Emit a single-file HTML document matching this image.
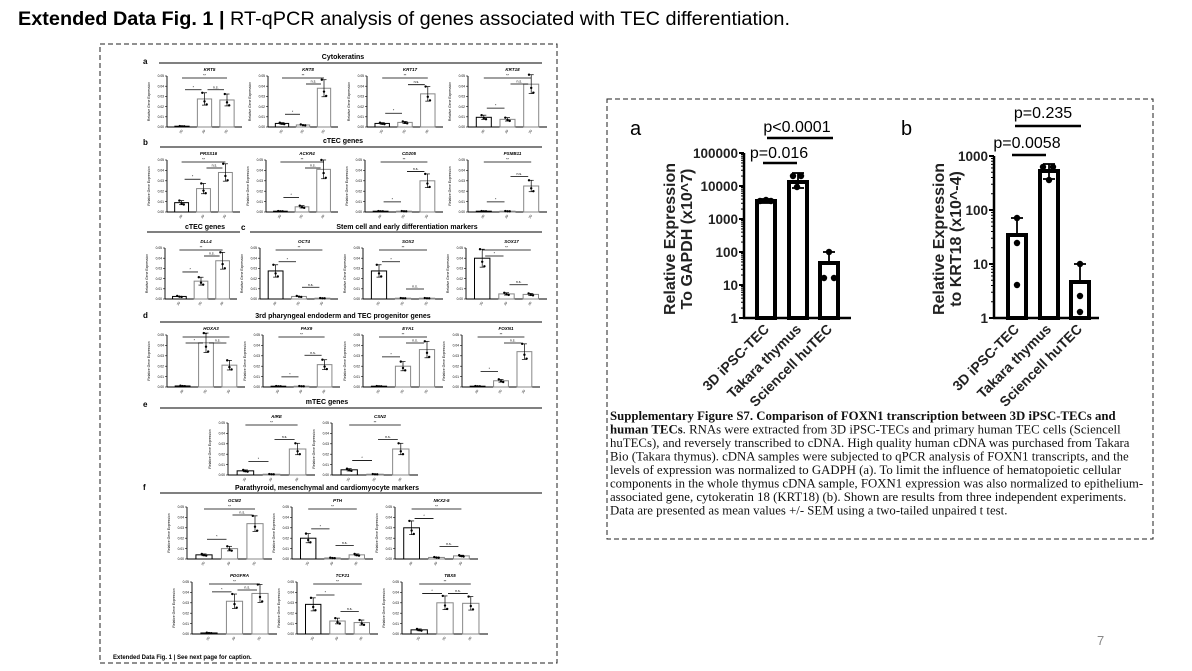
<!DOCTYPE html>
<html><head><meta charset="utf-8"><style>
html,body{margin:0;padding:0;background:#fff;}
svg{display:block;}
</style></head><body>
<svg id="s" width="1192" height="671" viewBox="0 0 1192 671" xmlns="http://www.w3.org/2000/svg" font-family="Liberation Sans, Arial, sans-serif">
<text x="18" y="25" font-size="19.5" fill="#000" textLength="772" lengthAdjust="spacingAndGlyphs"><tspan font-weight="bold">Extended Data Fig. 1 |</tspan> RT-qPCR analysis of genes associated with TEC differentiation.</text>
<rect x="100" y="44" width="457" height="619" fill="none" stroke="#222" stroke-width="1" stroke-dasharray="5,3"/>
<rect x="607" y="99" width="546" height="440" fill="none" stroke="#222" stroke-width="1" stroke-dasharray="5,3"/>
<text x="1097" y="645" font-size="13" fill="#888">7</text>
<g id="left"></g>
<g id="right"></g>
<text font-family="Liberation Serif, Times New Roman, serif" font-size="12.8" fill="#111">
<tspan x="610" y="420" font-weight="bold">Supplementary Figure S7. Comparison of FOXN1 transcription between 3D iPSC-TECs and</tspan>
<tspan x="610" y="433.5"><tspan font-weight="bold">human TECs</tspan>. RNAs were extracted from 3D iPSC-TECs and primary human TEC cells (Sciencell</tspan>
<tspan x="610" y="447">huTECs), and reversely transcribed to cDNA.  High quality human cDNA was purchased from Takara</tspan>
<tspan x="610" y="460.5">Bio (Takara thymus). cDNA samples were subjected to qPCR analysis of FOXN1 transcripts, and the</tspan>
<tspan x="610" y="474">levels of expression was normalized to GADPH (a). To limit the influence of hematopoietic cellular</tspan>
<tspan x="610" y="487.5">components in the whole thymus cDNA sample, FOXN1 expression was also normalized to epithelium-</tspan>
<tspan x="610" y="501">associated gene, cytokeratin 18 (KRT18) (b). Shown are results from three independent experiments.</tspan>
<tspan x="610" y="514.5">Data are presented as mean values +/- SEM using a two-tailed unpaired t test.</tspan>
</text>
</svg>
<script>
(function(){
var L='';
function ln(x1,y1,x2,y2,w,c){return '<line x1="'+x1+'" y1="'+y1+'" x2="'+x2+'" y2="'+y2+'" stroke="'+(c||'#000')+'" stroke-width="'+(w||1)+'"/>';}
function tx(x,y,t,sz,opt){opt=opt||{};return '<text x="'+x+'" y="'+y+'" font-size="'+sz+'"'+(opt.a?' text-anchor="'+opt.a+'"':'')+(opt.b?' font-weight="bold"':'')+(opt.i?' font-style="italic"':'')+(opt.r!==undefined?' transform="rotate('+opt.r+' '+x+' '+y+')"':'')+' fill="'+(opt.c||'#000')+'">'+t+'</text>';}
function mini(ax,top,base,end,title,v){
 var s='';
 s+=tx((ax+end)/2+5,top-5,title,4.5,{a:'middle',b:1,i:1});
 s+=ln(ax,top,ax,base,0.9)+ln(ax,base,end,base,0.9);
 for(var i=0;i<=5;i++){var y=base-(base-top)*i/5;s+=ln(ax-2,y,ax,y,0.6)+tx(ax-3,y+1.2,'0.0'+i,3.3,{a:'end'});}
 s+=tx(ax-17,(top+base)/2,'Relative Gene Expression',3.4,{a:'middle',r:-90});
 var w=end-ax,bw=w*0.19,cs=[ax+w*0.2,ax+w*0.5,ax+w*0.8],H=base-top;
 var tops=[];
 for(var k=0;k<3;k++){
  var h=Math.max(v[k]*H,0.8),c=cs[k],yt=base-h;tops.push(yt);
  s+='<rect x="'+(c-bw/2)+'" y="'+yt+'" width="'+bw+'" height="'+h+'" fill="#fff" stroke="'+(k==0?'#000':'#888')+'" stroke-width="1"/>';
  var e=h*0.22;
  if(h>3){s+=ln(c,yt-e,c,yt+e,0.7)+ln(c-2.5,yt-e,c+2.5,yt-e,0.7)+ln(c-2.5,yt+e,c+2.5,yt+e,0.7);}
  var dy=[-e,e*0.4,e*0.9];
  for(var j=0;j<3;j++)s+='<circle cx="'+(c-2.2+j*2.2)+'" cy="'+Math.min(base,yt+dy[j])+'" r="1.2" fill="#000"/>';
  s+=tx(c,base+5,'2D',3,{a:'middle',r:-60});
 }
 var y3=top+2;
 s+=ln(cs[0],y3,cs[2],y3,0.8)+tx((cs[0]+cs[2])/2,y3-1.5,'**',3.5,{a:'middle'});
 var y1=Math.min(tops[0],tops[1])-H*0.18;if(y1<y3+6)y1=y3+6;
 s+=ln(cs[0]+3,y1,cs[1]-3,y1,0.8)+tx((cs[0]+cs[1])/2,y1-1.5,'*',3.5,{a:'middle'});
 var y2=Math.min(tops[1],tops[2])-H*0.18;if(y2<y3+6)y2=y3+6;
 s+=ln(cs[1]+3,y2,cs[2]-3,y2,0.8)+tx((cs[1]+cs[2])/2,y2-1.5,'n.s.',3.5,{a:'middle'});
 return s;
}
function sect(x,y,t,l1,l2,ly){return tx(x,y,t,7,{a:'middle',b:1})+ln(l1,ly,l2,ly,1);}
L+=tx(143,64,'a',8,{b:1})+sect(343,59,'Cytokeratins',159,542,63);
var A=[[167,242,'KRT5',[0.01,0.55,0.53]],[268,338,'KRT8',[0.07,0.04,0.76]],[367,443,'KRT17',[0.07,0.09,0.65]],[468,547,'KRT18',[0.19,0.15,0.84]]];
A.forEach(function(p){L+=mini(p[0],76,127,p[1],p[2],p[3]);});
L+=tx(143,145,'b',8,{b:1})+sect(343,143,'cTEC genes',160,542,147);
var B=[[167,240,'PRSS16',[0.18,0.45,0.76]],[266,338,'ACKR4',[0.01,0.1,0.82]],[365,443,'CD205',[0.01,0.01,0.6]],[468,547,'PSMB11',[0.01,0.01,0.5]]];
B.forEach(function(p){L+=mini(p[0],160,212,p[1],p[2],p[3]);});
L+=sect(205,229,'cTEC  genes',147,240,232)+tx(241,230,'c',8,{b:1})+sect(407,229,'Stem cell and early differentiation markers',250,542,232);
var C=[[165,237,'DLL4',[0.05,0.35,0.75]],[260,338,'OCT4',[0.55,0.05,0.01]],[363,443,'SOX2',[0.55,0.01,0.01]],[466,547,'SOX17',[0.8,0.1,0.09]]];
C.forEach(function(p){L+=mini(p[0],248,299,p[1],p[2],p[3]);});
L+=tx(143,318,'d',8,{b:1})+sect(343,318,'3rd pharyngeal endoderm and TEC progenitor genes',160,542,322);
var D=[[167,245,'HOXA3',[0.02,0.85,0.42]],[263,340,'PAX9',[0.01,0.01,0.43]],[363,443,'EYA1',[0.01,0.4,0.72]],[462,540,'FOXN1',[0.01,0.12,0.68]]];
D.forEach(function(p){L+=mini(p[0],335,387,p[1],p[2],p[3]);});
L+=tx(143,407,'e',8,{b:1})+sect(327,404,'mTEC genes',160,542,408);
L+=mini(228,423,475,315,'AIRE',[0.08,0.01,0.5])+mini(332,423,475,418,'CSN2',[0.1,0.01,0.5]);
L+=tx(143,490,'f',8,{b:1})+sect(327,490,'Parathyroid, mesenchymal and cardiomyocyte markers',160,542,493);
L+=mini(187,507,559,272,'GCM2',[0.08,0.2,0.68])+mini(292,507,559,373,'PTH',[0.4,0.02,0.08])+mini(395,507,559,478,'NKX2-5',[0.6,0.03,0.06]);
L+=mini(192,582,634,277,'PDGFRA',[0.02,0.63,0.78])+mini(297,582,634,378,'TCF21',[0.57,0.25,0.22])+mini(402,582,634,488,'TBX5',[0.08,0.6,0.59]);
L+=tx(113,659,'Extended Data Fig. 1 | See next page for caption.',6,{b:1});
document.getElementById('left').innerHTML=L;

var R='';
function logAxis(ax,base,top,end,labels){
 var s=ln(ax,top,ax,base,2.5)+ln(ax-1,base,end,base,2.5);
 var n=labels.length-1,d=(base-top)/n;
 for(var i=0;i<=n;i++){var y=base-i*d;s+=ln(ax-5,y,ax,y,2)+tx(ax-6,y+5,labels[i],13.5,{a:'end',b:1,c:'#222'});
  if(i<n){for(var m=2;m<10;m++){var yy=y-Math.log10(m)*d;s+=ln(ax-3,yy,ax,yy,1);}}}
 return s;
}
function bar(x1,x2,top,base){return '<rect x="'+x1+'" y="'+top+'" width="'+(x2-x1)+'" height="'+(base-top)+'" fill="#fff" stroke="#000" stroke-width="4"/>';}
function eb(c,y1,y2){return ln(c,y1,c,y2,1.8)+ln(c-6,y1,c+6,y1,1.8)+ln(c-6,y2,c+6,y2,1.8);}
function dot(x,y){return '<circle cx="'+x+'" cy="'+y+'" r="3.2" fill="#000"/>';}
function xl(x,y,t){return tx(x,y,t,14,{a:'end',b:1,r:-45,c:'#222'});}
R+=tx(630,135,'a',20);
R+=logAxis(744,318,153,851,['1','10','100','1000','10000','100000']);
R+=bar(757,775,201,318)+bar(789,807,182,318)+bar(820,838,263,318);
R+=eb(766,199,203)+dot(760,201)+dot(766,200)+dot(771,201);
R+=eb(798,173,188)+dot(793,176)+dot(801,176)+dot(797,187);
R+=ln(829,252,829,263,1.8)+ln(823,252,835,252,1.8)+dot(829,252)+dot(824,278)+dot(834,278);
R+=tx(779,158,'p=0.016',16,{a:'middle'})+ln(763,163,797,163,2.5);
R+=tx(797,132,'p&lt;0.0001',16,{a:'middle'})+ln(767,138,833,138,2.5);
R+=xl(770,330,'3D iPSC-TEC')+xl(802,330,'Takara thymus')+xl(833,330,'Sciencell huTEC');
R+=tx(675,239,'Relative Expression',16,{a:'middle',b:1,r:-90,c:'#222'})+tx(692,239,'To GAPDH (x10^7)',16,{a:'middle',b:1,r:-90,c:'#222'});
R+=tx(901,135,'b',20);
R+=logAxis(994,318,156,1099,['1','10','100','1000']);
R+=bar(1008,1026,235,318)+bar(1040,1058,171,318)+bar(1071,1089,282,318);
R+=ln(1017,218,1017,235,1.8)+ln(1011,218,1023,218,1.8)+dot(1017,218)+dot(1017,243)+dot(1017,285);
R+=eb(1049,164,179)+dot(1043,167)+dot(1053,167)+dot(1049,180);
R+=ln(1080,264,1080,282,1.8)+ln(1074,264,1086,264,1.8)+dot(1080,264)+dot(1080,296)+dot(1080,312);
R+=tx(1027,148,'p=0.0058',16,{a:'middle'})+ln(1012,155,1046,155,2.5);
R+=tx(1043,118,'p=0.235',16,{a:'middle'})+ln(1015,126,1081,126,2.5);
R+=xl(1020,330,'3D iPSC-TEC')+xl(1052,330,'Takara thymus')+xl(1083,330,'Sciencell huTEC');
R+=tx(944,239,'Relative Expression',16,{a:'middle',b:1,r:-90,c:'#222'})+tx(961,239,'to KRT18 (x10^-4)',16,{a:'middle',b:1,r:-90,c:'#222'});
document.getElementById('right').innerHTML=R;
})();
</script>
</body></html>
